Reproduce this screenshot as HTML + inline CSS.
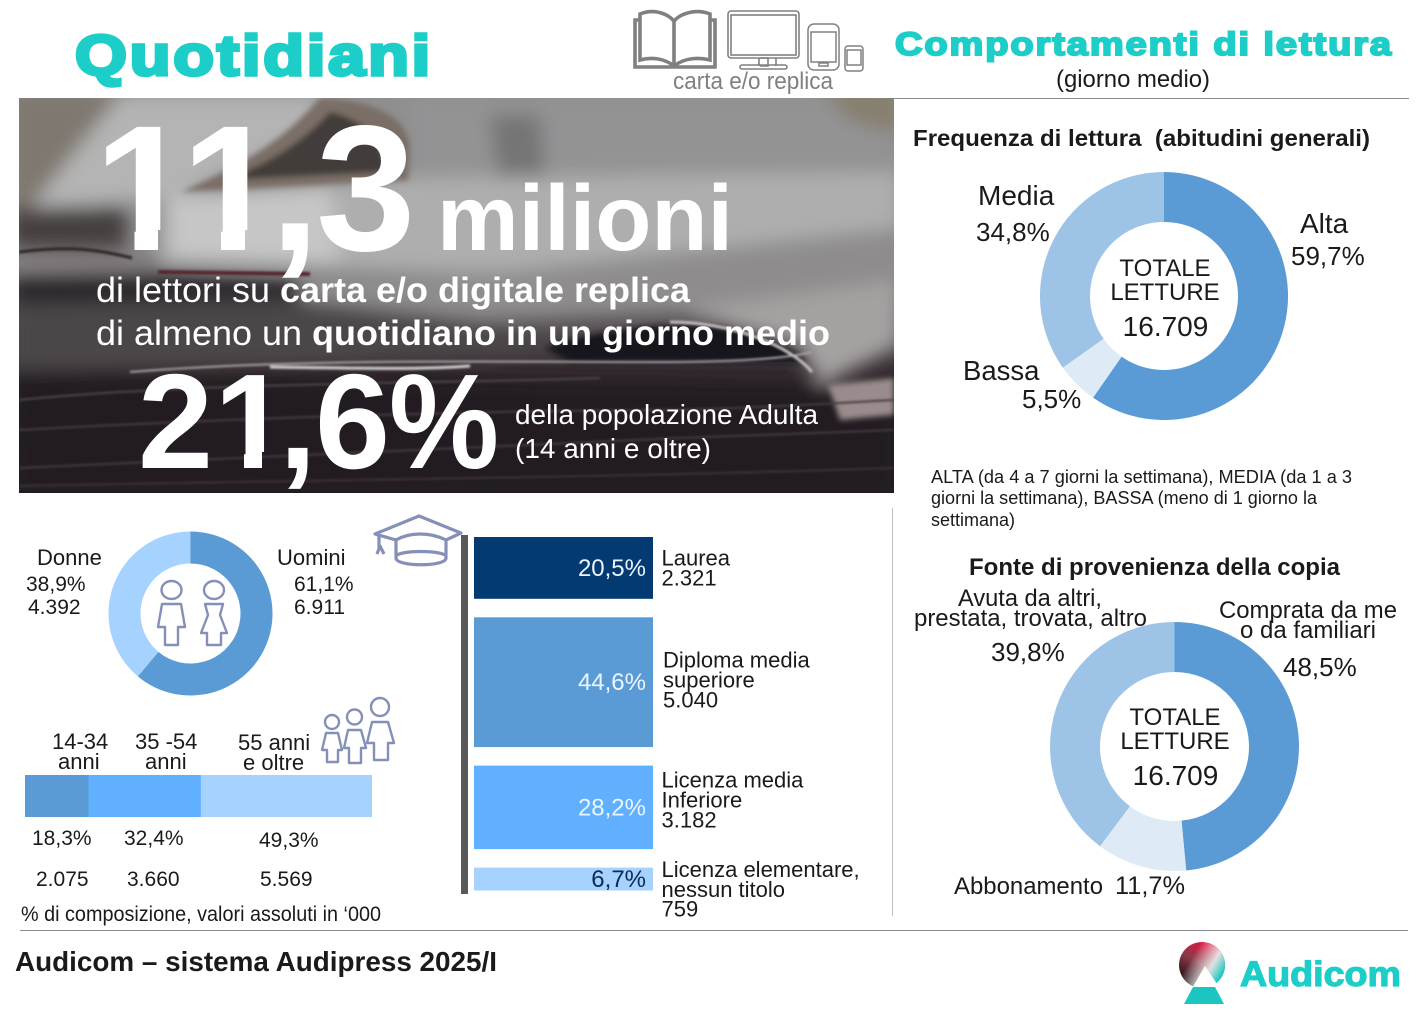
<!DOCTYPE html>
<html lang="it">
<head>
<meta charset="utf-8">
<title>Quotidiani - Comportamenti di lettura</title>
<style>
html,body{margin:0;padding:0;background:#fff;width:1422px;height:1010px;overflow:hidden}
svg{display:block}
text{font-family:"Liberation Sans",Arial,sans-serif;fill:#1a1a1a}
.b{font-weight:700}
.w{fill:#fff}
.t{fill:#1ccdc8;stroke:#1ccdc8;font-weight:700}
.ic{fill:none;stroke:#808080}
.pp{fill:none;stroke:#8490b8;stroke-width:2.4;stroke-linejoin:round}
</style>
</head>
<body>
<svg id="page" xmlns="http://www.w3.org/2000/svg" width="1422" height="1010" viewBox="0 0 1422 1010">
<defs>
<linearGradient id="heroBase" x1="0" y1="0" x2="0" y2="1">
<stop offset="0" stop-color="#8f8f90"/><stop offset=".42" stop-color="#8d8c8c"/><stop offset=".56" stop-color="#5c565a"/><stop offset=".7" stop-color="#33292f"/><stop offset="1" stop-color="#231a22"/>
</linearGradient>
<filter id="bl12" x="-20%" y="-20%" width="140%" height="140%"><feGaussianBlur stdDeviation="9"/></filter>
<filter id="bl4" x="-20%" y="-20%" width="140%" height="140%"><feGaussianBlur stdDeviation="3"/></filter>
<filter id="bl1" x="-5%" y="-50%" width="110%" height="200%"><feGaussianBlur stdDeviation="1"/></filter>
<clipPath id="heroClip"><rect x="19" y="98" width="875" height="395"/></clipPath>
<clipPath id="clipFeet11">
<rect x="80" y="100" width="350" height="130"/>
<rect x="134.5" y="229" width="23.5" height="30"/>
<rect x="221" y="229" width="24" height="30"/>
<rect x="276" y="229" width="150" height="60"/>
</clipPath>
<clipPath id="clipFeet21">
<rect x="130" y="360" width="270" height="92"/>
<rect x="130" y="451" width="84" height="30"/>
<rect x="244" y="451" width="18" height="30"/>
<rect x="287" y="451" width="113" height="50"/>
</clipPath>
<linearGradient id="logoGrad" x1=".7" y1="0" x2=".2" y2="1">
<stop offset="0" stop-color="#ee0f3d"/><stop offset=".45" stop-color="#8a3a4a"/><stop offset="1" stop-color="#050505"/>
</linearGradient>
<linearGradient id="logoGrad2" x1="0" y1="0" x2="1" y2=".6">
<stop offset=".35" stop-color="#fff" stop-opacity="0"/><stop offset=".75" stop-color="#e8f4f2" stop-opacity=".9"/><stop offset="1" stop-color="#1cc6c0"/>
</linearGradient>
</defs>

<rect x="0" y="0" width="1422" height="1010" fill="#fff"/>

<text class="t" x="75" y="75" font-size="57" stroke-width="3.4" style="letter-spacing:2.4px" textLength="358" lengthAdjust="spacingAndGlyphs">Quotidiani</text>

<g>
<g class="ic" stroke-width="3.6">
<path d="M674 66 C664 58 651 57 640 60 L640 14 C652 9 666 12 674 21 C682 12 698 9 710 14 L710 60 C698 57 684 58 674 66 Z"/>
<path d="M640 20 L635 20 L635 67 L715 67 L715 20 L710 20"/><path d="M674 21 L674 66"/>
</g>
<g class="ic" stroke-width="1.6">
<rect x="728" y="11" width="71" height="47" rx="3"/><rect x="731" y="15" width="65" height="40"/>
<path d="M759 58 V66 M776 58 V66 M760 58 h8 v8 h-8"/><rect x="740" y="65" width="47" height="4" rx="2"/>
</g>
<g class="ic" stroke-width="1.5">
<rect x="808" y="24" width="31" height="46" rx="6"/><rect x="811" y="32" width="25" height="30"/><rect x="819" y="63" width="9" height="3"/>
</g>
<g class="ic" stroke-width="1.5">
<rect x="845" y="46" width="18" height="25" rx="3"/><rect x="847" y="50" width="14" height="15"/>
</g>
</g>
<text x="673" y="89" font-size="24" style="fill:#808080" textLength="160" lengthAdjust="spacingAndGlyphs">carta e/o replica</text>

<text class="t" x="895" y="55" font-size="32" stroke-width="1.9" style="letter-spacing:1.6px" textLength="498" lengthAdjust="spacingAndGlyphs">Comportamenti di lettura</text>
<text x="1056" y="87" font-size="24" textLength="154" lengthAdjust="spacingAndGlyphs">(giorno medio)</text>

<line x1="894" y1="98.5" x2="1409" y2="98.5" stroke="#8c8c8c" stroke-width="1"/>

<g clip-path="url(#heroClip)">
<rect x="19" y="98" width="875" height="395" fill="url(#heroBase)"/>
<g filter="url(#bl12)">
<polygon points="10,90 125,90 30,210 10,215" fill="#7f7870"/>
<polygon points="120,95 330,95 300,140 180,195 25,215" fill="#b4b4b4"/>
<polygon points="410,95 900,95 900,175 410,185" fill="#939394"/>
<polygon points="490,115 540,115 545,185 500,185" fill="#747474"/>
<polygon points="820,90 900,90 900,135 850,120" fill="#867f6c"/>
<polygon points="160,195 410,178 900,172 900,228 700,262 480,272 160,262" fill="#aeaeae"/>
<polygon points="170,198 330,188 340,262 170,258" fill="#c6c6c6"/>
<polygon points="10,208 125,205 128,252 10,250" fill="#464140"/>
<polygon points="10,252 150,250 160,272 10,272" fill="#847f80"/>
<polygon points="10,275 160,272 300,280 300,300 10,305" fill="#2c262a"/>
<polygon points="300,275 500,272 900,228 900,300 700,310 480,320 300,320" fill="#8e8c8c"/>
<polygon points="10,305 300,300 480,320 560,345 300,362 10,370" fill="#4c464a"/>
<polygon points="680,310 900,280 900,345 820,385 800,345" fill="#a5a1a1"/>
<polygon points="10,372 900,385 900,500 10,500" fill="#221a22"/>
</g>
<g filter="url(#bl4)">
<path d="M320 98 C370 100 410 115 410 150 L408 180 L181 192 C230 170 275 150 320 98 Z" fill="#7a6e66"/>
<path d="M330 112 C365 120 385 140 385 172 L225 180 C265 165 300 145 330 112 Z" fill="#433d3a"/>
<path d="M545 348 C610 325 690 320 735 330 C775 340 795 350 805 362 L570 362 Z" fill="#18121c"/>
<polygon points="828,385 894,378 894,415 840,420" fill="#9a8c8c"/>
</g>
<g filter="url(#bl1)" fill="none">
<path d="M19 252 C70 245 100 250 132 258" stroke="#2a2727" stroke-width="3"/>
<path d="M158 272 L310 274" stroke="#54282e" stroke-width="4"/>
<path d="M130 372 C300 358 500 362 660 362 C720 362 780 360 812 352" stroke="#a8a3a4" stroke-width="2"/>
<path d="M270 367 C340 368 420 370 470 366" stroke="#d0d0d0" stroke-width="3"/>
<path d="M670 322 C730 322 790 345 812 372" stroke="#c5c0c0" stroke-width="3"/>
<path d="M19 400 C200 382 420 384 600 378" stroke="#4f4348" stroke-width="2"/>
<path d="M19 430 C200 420 420 412 640 410 C720 410 800 405 894 400" stroke="#463a40" stroke-width="2"/>
<path d="M19 468 C300 455 600 440 894 430" stroke="#443840" stroke-width="2"/>
<path d="M19 486 C300 480 600 478 894 468" stroke="#3c3036" stroke-width="2"/>
</g>
</g>

<text class="w b" x="94 181 270 316" y="250" font-size="179" clip-path="url(#clipFeet11)">11,3</text>
<text class="w b" x="437" y="250" font-size="93" textLength="296" lengthAdjust="spacingAndGlyphs">milioni</text>
<text class="w" x="96" y="302" font-size="35" textLength="174" lengthAdjust="spacingAndGlyphs">di lettori su</text>
<text class="w b" x="280" y="302" font-size="35" textLength="410" lengthAdjust="spacingAndGlyphs">carta e/o digitale replica</text>
<text class="w" x="96" y="345" font-size="35" textLength="206" lengthAdjust="spacingAndGlyphs">di almeno un</text>
<text class="w b" x="312" y="345" font-size="35" textLength="518" lengthAdjust="spacingAndGlyphs">quotidiano in un giorno medio</text>
<text class="w b" x="138 214 279 315" y="468" font-size="135" clip-path="url(#clipFeet21)">21,6</text>
<text class="w b" x="389" y="468" font-size="135" textLength="110" lengthAdjust="spacingAndGlyphs">%</text>
<text class="w" x="515" y="424" font-size="28" textLength="303" lengthAdjust="spacingAndGlyphs">della popolazione Adulta</text>
<text class="w" x="515" y="458" font-size="28" textLength="196" lengthAdjust="spacingAndGlyphs">(14 anni e oltre)</text>

<text class="b" x="913" y="146" font-size="23.5" textLength="457" lengthAdjust="spacingAndGlyphs" xml:space="preserve">Frequenza di lettura  (abitudini generali)</text>
<g id="freqDonut"></g>
<text x="978" y="205" font-size="28">Media</text>
<text x="976" y="241" font-size="26">34,8%</text>
<text x="1300" y="233" font-size="28">Alta</text>
<text x="1291" y="265" font-size="26">59,7%</text>
<text x="963" y="380" font-size="27.5">Bassa</text>
<text x="1022" y="408" font-size="26">5,5%</text>
<text x="1165" y="276" font-size="24" text-anchor="middle">TOTALE</text>
<text x="1165" y="300" font-size="24" text-anchor="middle">LETTURE</text>
<text x="1165.5" y="336" font-size="28" text-anchor="middle">16.709</text>

<text x="931" y="483" font-size="18" textLength="421" lengthAdjust="spacingAndGlyphs">ALTA (da 4 a 7 giorni la settimana), MEDIA (da 1 a 3</text>
<text x="931" y="504" font-size="18" textLength="386" lengthAdjust="spacingAndGlyphs">giorni la settimana), BASSA (meno di 1 giorno la</text>
<text x="931" y="526" font-size="18">settimana)</text>

<line x1="892.5" y1="508" x2="892.5" y2="916" stroke="#bfbfbf" stroke-width="1"/>

<text class="b" x="969" y="575" font-size="24" textLength="371" lengthAdjust="spacingAndGlyphs">Fonte di provenienza della copia</text>
<g id="sourceDonut"></g>
<text x="958" y="606" font-size="24" textLength="144" lengthAdjust="spacingAndGlyphs">Avuta da altri,</text>
<text x="914" y="626" font-size="24" textLength="233" lengthAdjust="spacingAndGlyphs">prestata, trovata, altro</text>
<text x="991" y="661" font-size="26">39,8%</text>
<text x="1219" y="618" font-size="24" textLength="178" lengthAdjust="spacingAndGlyphs">Comprata da me</text>
<text x="1240" y="638" font-size="24" textLength="136" lengthAdjust="spacingAndGlyphs">o da familiari</text>
<text x="1283" y="676" font-size="26">48,5%</text>
<text x="954" y="894" font-size="24" textLength="149" lengthAdjust="spacingAndGlyphs">Abbonamento</text>
<text x="1115" y="894" font-size="25" textLength="70" lengthAdjust="spacingAndGlyphs">11,7%</text>
<text x="1175" y="725" font-size="24" text-anchor="middle">TOTALE</text>
<text x="1175" y="749" font-size="24" text-anchor="middle">LETTURE</text>
<text x="1175.5" y="785" font-size="28" text-anchor="middle">16.709</text>

<g id="genderDonut"></g>
<text x="37" y="565" font-size="22">Donne</text>
<text x="26" y="591" font-size="21">38,9%</text>
<text x="28" y="614" font-size="21">4.392</text>
<text x="277" y="565" font-size="22">Uomini</text>
<text x="294" y="591" font-size="21">61,1%</text>
<text x="294" y="614" font-size="21">6.911</text>

<g class="pp">
<ellipse cx="171.5" cy="590" rx="10" ry="9"/>
<path d="M162 604 H181 L185 627 H178 V645 H165 V627 H158 Z"/>
<ellipse cx="214" cy="590" rx="10" ry="9"/>
<path d="M205 604 H223 L220 615 L227 633 H221 V645 H207 V633 H201 L208 615 Z"/>
</g>

<g class="pp" style="stroke-width:3.2">
<path d="M375 534 L419 516 L461 533 L446 540 C430 532 410 532 396 540 Z"/>
<path d="M396 538 V558 C396 567 446 567 446 558 V538"/>
<path d="M396 556 C400 550 442 550 446 556"/>
<path d="M379 536 V548 M377 554 L380 546 L384 554"/>
</g>

<g class="pp">
<circle cx="332" cy="722" r="7"/>
<path d="M326 733 H338 L342 750 H338 V762 H327 V750 H322 Z"/>
<circle cx="354.5" cy="717" r="7.5"/>
<path d="M348 730 H361 L366 748 H361 V763 H349 V748 H344 Z"/>
<circle cx="380" cy="707" r="9"/>
<path d="M372 722 H388 L394 743 H388 V760 H374 V743 H367 Z"/>
</g>

<text x="52" y="749" font-size="22">14-34</text>
<text x="58" y="769" font-size="22">anni</text>
<text x="135" y="749" font-size="22">35 -54</text>
<text x="145" y="769" font-size="22">anni</text>
<text x="238" y="750" font-size="22">55 anni</text>
<text x="243" y="770" font-size="22">e oltre</text>
<g id="ageBar"></g>
<text x="32" y="845" font-size="21">18,3%</text>
<text x="124" y="845" font-size="21">32,4%</text>
<text x="259" y="847" font-size="21">49,3%</text>
<text x="36" y="886" font-size="21">2.075</text>
<text x="127" y="886" font-size="21">3.660</text>
<text x="260" y="886" font-size="21">5.569</text>
<text x="21" y="921" font-size="21" textLength="360" lengthAdjust="spacingAndGlyphs">% di composizione, valori assoluti in ‘000</text>

<rect x="461" y="535" width="7" height="359" fill="#595959"/>
<g id="eduBars"></g>

<g font-size="22">
<text x="661.5" y="565.5">Laurea</text>
<text x="661.5" y="585.5">2.321</text>
<text x="663" y="667.5">Diploma media</text>
<text x="663" y="687.5">superiore</text>
<text x="663" y="707.5">5.040</text>
<text x="661.5" y="787.5">Licenza media</text>
<text x="661.5" y="807.5">Inferiore</text>
<text x="661.5" y="827.5">3.182</text>
<text x="661.5" y="877">Licenza elementare,</text>
<text x="661.5" y="897">nessun titolo</text>
<text x="661.5" y="916.5">759</text>
</g>

<line x1="20" y1="930.5" x2="1408" y2="930.5" stroke="#8c8c8c" stroke-width="1"/>
<text class="b" x="15" y="971" font-size="28" textLength="482" lengthAdjust="spacingAndGlyphs">Audicom – sistema Audipress 2025/I</text>

<g>
<circle cx="1202" cy="965" r="23" fill="url(#logoGrad)"/>
<circle cx="1202" cy="965" r="23" fill="url(#logoGrad2)"/>
<polygon points="1205,966 1191,990 1221,990" fill="#fff"/>
<polygon points="1193,987 1215,987 1224,1004 1184,1004" fill="#1cc6c0"/>
<text class="t" x="1240" y="986" font-size="35" stroke-width="1.2" textLength="161" lengthAdjust="spacingAndGlyphs">Audicom</text>
</g>

<script>
const freqLabels = ['Alta', 'Bassa', 'Media'];
const freqValues = [59.7, 5.5, 34.8];
const sourceLabels = ['Comprata', 'Abbonamento', 'Avuta'];
const sourceValues = [48.5, 11.7, 39.8];
const genderLabels = ['Uomini', 'Donne'];
const genderValues = [61.1, 38.9];
const ageLabels = ['14-34', '35-54', '55-plus'];
const ageValues = [18.3, 32.4, 49.3];
const eduLabels = ['Laurea', 'Diploma', 'Licenza-media', 'Licenza-elementare'];
const eduValues = [20.5, 44.6, 28.2, 6.7];

const NS = 'http://www.w3.org/2000/svg';
const BLUE = '#5b9bd5', MID = '#9dc3e6', PALE = '#deebf7', SKY = '#60b0ff', LIGHT = '#a6d2ff', NAVY = '#033a72';

function angleScale(values) {
  const total = values.reduce((a, b) => a + b, 0);
  return v => v / total * Math.PI * 2;
}
function polar(cx, cy, r, a) {
  return [cx + r * Math.sin(a), cy - r * Math.cos(a)];
}
function drawDonut(host, labels, values, colors, cx, cy, R, r) {
  const scale = angleScale(values);
  let a0 = 0;
  values.forEach((v, i) => {
    const a1 = a0 + scale(v);
    const large = a1 - a0 > Math.PI ? 1 : 0;
    const p1 = polar(cx, cy, R, a0), p2 = polar(cx, cy, R, a1), p3 = polar(cx, cy, r, a1), p4 = polar(cx, cy, r, a0);
    const el = document.createElementNS(NS, 'path');
    el.setAttribute('d', 'M' + p1 + ' A' + R + ' ' + R + ' 0 ' + large + ' 1 ' + p2 + ' L' + p3 + ' A' + r + ' ' + r + ' 0 ' + large + ' 0 ' + p4 + ' Z');
    el.setAttribute('fill', colors[i]);
    
    
    host.appendChild(el);
    a0 = a1;
  });
}
drawDonut(document.getElementById('freqDonut'), freqLabels, freqValues, [BLUE, PALE, MID], 1164, 296, 124, 74);
drawDonut(document.getElementById('sourceDonut'), sourceLabels, sourceValues, [BLUE, PALE, MID], 1174.5, 746.5, 124.5, 74.5);
drawDonut(document.getElementById('genderDonut'), genderLabels, genderValues, [BLUE, LIGHT], 190.5, 613.5, 82, 50);

// stacked age bar: horizontal axis maps 0-100% on to the bar span
const ageX = v => v / 100 * 347;
const ageHost = document.getElementById('ageBar');
const ageColors = [BLUE, SKY, LIGHT];
let ageCursor = 25;
ageValues.forEach((v, i) => {
  const el = document.createElementNS(NS, 'rect');
  el.setAttribute('x', ageCursor);
  el.setAttribute('y', 775);
  el.setAttribute('width', ageX(v));
  el.setAttribute('height', 42);
  el.setAttribute('fill', ageColors[i]);
  
  
  ageHost.appendChild(el);
  ageCursor += ageX(v);
});

// education column: height axis, stacked from top with a fixed gap
const eduH = v => 4 + v * 2.82;
const eduHost = document.getElementById('eduBars');
const eduColors = [NAVY, BLUE, SKY, LIGHT];
const eduTextColors = ['#eaf6ff', '#eaf6ff', '#eaf6ff', '#0b2a55'];
let eduCursor = 537;
eduValues.forEach((v, i) => {
  const h = eduH(v);
  const el = document.createElementNS(NS, 'rect');
  el.setAttribute('x', 474);
  el.setAttribute('y', eduCursor);
  el.setAttribute('width', 179);
  el.setAttribute('height', h);
  el.setAttribute('fill', eduColors[i]);
  
  
  eduHost.appendChild(el);

  const t = document.createElementNS(NS, 'text');
  t.setAttribute('x', 646);
  t.setAttribute('y', eduCursor + h / 2 + 8);
  t.setAttribute('text-anchor', 'end');
  t.setAttribute('font-size', '24');
  t.setAttribute('style', 'fill:' + eduTextColors[i]);
  t.textContent = v.toFixed(1).replace('.', ',') + '%';
  
  
  eduHost.appendChild(t);

  eduCursor += h + 18.5;
});
</script>
</svg>
</body>
</html>
